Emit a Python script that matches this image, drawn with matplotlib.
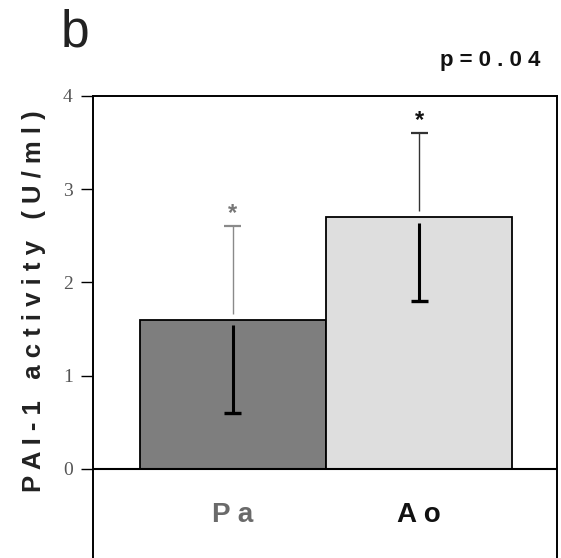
import matplotlib
matplotlib.use("Agg")
import matplotlib.pyplot as plt

# data
groups = ["Pa", "Ao"]
group_labels = ["P a", "A o"]
means = [1.6, 2.7]
upper = [2.6, 3.6]
lower = [0.6, 1.8]
y_ticks = [0, 1, 2, 3, 4]
p_text = "p = 0 . 0 4"
y_label = "P A I - 1   a c t i v i t y   ( U / m l )"

bar_colors = ["#7e7e7e", "#dedede"]
upper_colors = ["#8a8a8a", "#333333"]
label_colors = ["#6a6a6a", "#111111"]
star_colors = ["#777777", "#111111"]

plt.rcParams["font.family"] = ["Liberation Sans", "DejaVu Sans"]

fig = plt.figure(figsize=(5.61, 5.58), dpi=100)
ax = fig.add_axes([0.1658, 0.0, 0.8271, 0.8285])

x = list(range(len(groups)))
ax.bar(x, means, width=1.0, color=bar_colors, edgecolor="black", linewidth=1.3, zorder=2)

gap = 0.06
for i in x:
    # thin line above the bar, thick line inside it
    ax.errorbar(i, (means[i] + gap + upper[i]) / 2, yerr=(upper[i] - means[i] - gap) / 2,
                fmt="none", ecolor=upper_colors[i], elinewidth=1.0, capsize=0, zorder=3)
    ax.plot([i - 0.045, i + 0.045], [upper[i], upper[i]], color=upper_colors[i], lw=1.6, zorder=3,
            solid_capstyle="butt")
    ax.errorbar(i, (means[i] - gap + lower[i]) / 2, yerr=(means[i] - gap - lower[i]) / 2,
                fmt="none", ecolor="black", elinewidth=2.2, capsize=0, zorder=3)
    ax.plot([i - 0.045, i + 0.045], [lower[i], lower[i]], color="black", lw=2.4, zorder=3,
            solid_capstyle="butt")
    ax.annotate("*", xy=(i, upper[i]), xytext=(0, 1), textcoords="offset points",
                ha="center", va="bottom", fontsize=17, fontweight="bold", color=star_colors[i])
    ax.text(i, -0.49, group_labels[i], ha="center", va="center", fontsize=20,
            fontweight="bold", color=label_colors[i])

ax.axhline(0, color="black", lw=1.5, zorder=4)

ax.set_xlim(-0.75, 1.74)
ax.set_ylim(-0.954, 4)
ax.set_xticks([])
ax.set_yticks(y_ticks)
ax.set_yticklabels([str(t) for t in y_ticks], family="Liberation Serif", fontsize=14, color="#555555")
ax.tick_params(axis="y", direction="out", length=8.5, width=1.0, pad=6)
ax.spines["bottom"].set_visible(False)
for s in ["left", "top", "right"]:
    ax.spines[s].set_linewidth(1.4)

ax.set_ylabel(y_label, fontsize=18.5, fontweight="bold", color="#222222")
ax.yaxis.set_label_coords(-0.102, 0.556)

fig.text(0.108, 0.916, "b", fontsize=37, color="#222222", ha="left", va="baseline")
fig.text(0.964, 0.873, p_text, fontsize=16, fontweight="bold", color="#111111", ha="right", va="bottom")

fig.savefig("out.png", dpi=100)
